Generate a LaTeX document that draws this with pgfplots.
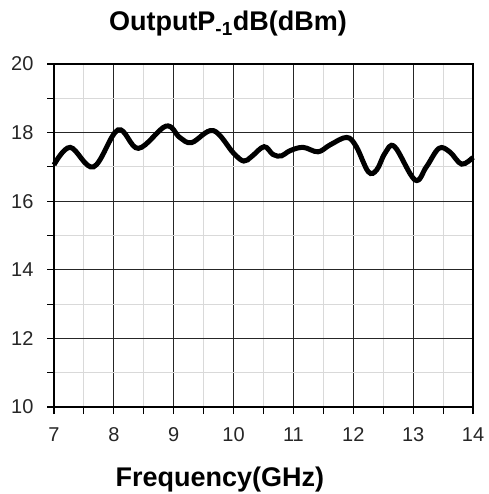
\documentclass[border=0pt]{standalone}
\usepackage{pgfplots}
\pgfplotsset{compat=1.18}
\usepackage{fontspec}
\setmainfont{Liberation Sans}
\begin{document}
\begin{tikzpicture}
\begin{axis}[
  name=ax,
  scale only axis,
  width=419pt, height=343pt,
  xmin=7, xmax=14, ymin=10, ymax=20,
  xtick={7,...,14}, ytick={10,12,...,20},
  minor xtick={7.5,8.5,...,13.5}, minor ytick={11,13,...,19},
  grid=both,
  major grid style={black!85, line width=1.1pt},
  minor grid style={black!15, line width=1.1pt},
  axis line style={black, line width=1.1pt},
  tick align=outside,
  major tick length=7pt, minor tick length=7pt,
  tick style={black, line width=1.1pt},
  xtick pos=bottom, ytick pos=left,
  tick label style={font=\fontsize{20}{22}\selectfont, text=black!85},
  /pgf/number format/assume math mode=true,
  xticklabel style={yshift=-10pt},
  yticklabel style={xshift=-10pt},
  title={\textbf{OutputP\textsubscript{-1}dB(dBm)}},
  title style={at={(0.415,1)}, anchor=base, yshift=27pt, font=\fontsize{27}{29}\selectfont},
  xlabel={\textbf{Frequency(GHz)}},
  xlabel style={at={(0.396,0)}, anchor=base, yshift=-79pt, font=\fontsize{27}{29}\selectfont},
  clip=false,
]
\addplot[black, line width=5pt, smooth, tension=0.6] coordinates {
(7.00,17.06) (7.27,17.57) (7.66,17.00) (8.07,18.08) (8.41,17.54)
(8.87,18.19) (9.10,17.86) (9.30,17.71) (9.66,18.06) (10.00,17.40)
(10.17,17.17) (10.30,17.30) (10.51,17.59) (10.66,17.36) (10.80,17.32)
(10.94,17.47) (11.16,17.57) (11.41,17.44) (11.61,17.64) (11.89,17.86)
(12.05,17.59) (12.25,16.86) (12.39,16.91) (12.53,17.40) (12.69,17.59)
(13.03,16.62) (13.22,17.00) (13.43,17.54) (13.61,17.44) (13.81,17.08)
(14.00,17.28)
};
\coordinate (bl) at (rel axis cs:-0.1289,-0.2536);
\coordinate (tr) at (rel axis cs:1.0358,1.1866);
\end{axis}
\pgfresetboundingbox
\path[use as bounding box] (bl) rectangle (tr);
\end{tikzpicture}
\end{document}
